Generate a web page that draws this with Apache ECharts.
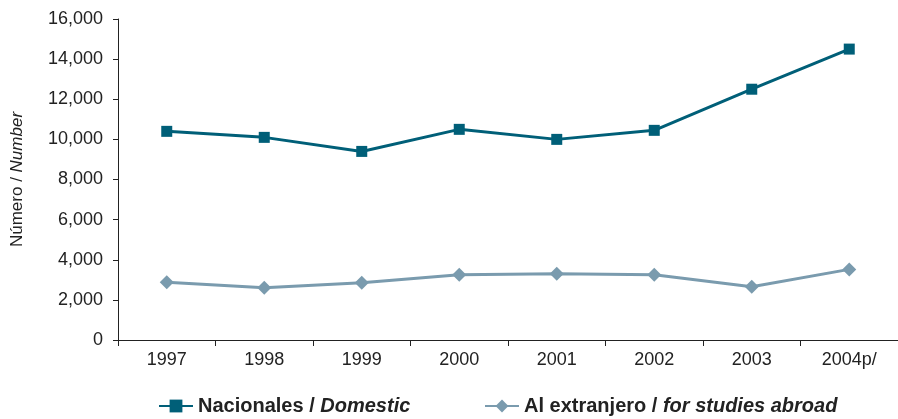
<!DOCTYPE html>
<html>
<head>
<meta charset="utf-8">
<script src="https://cdn.jsdelivr.net/npm/echarts@6/dist/echarts.min.js"></script>
<style>
  html, body { margin: 0; padding: 0; background: #fff; }
  #chart { width: 898px; height: 419px; }
</style>
</head>
<body>
<div id="chart"></div>
<script>
const years = ['1997', '1998', '1999', '2000', '2001', '2002', '2003', '2004p/']
const domestic = [10400, 10100, 9400, 10500, 10000, 10450, 12500, 14500]
const abroad = [2880, 2600, 2850, 3250, 3300, 3250, 2650, 3520]
const yTicks = { min: 0, max: 16000, interval: 2000 }
const seriesNames = ['Nacionales / Domestic', 'Al extranjero / for studies abroad']

const c = {
  domestic: '#005f78',
  abroad: '#7a9bae',
  text: '#222222',
  axis: '#222222',
}
const font = '"Liberation Sans", Arial, Helvetica, sans-serif'

const chart = echarts.init(document.getElementById('chart'))

const legendText = {
  fontFamily: font,
  rich: {
    b: { fontWeight: 'bold', fontSize: 20, color: c.text, fontFamily: font },
    bi: { fontWeight: 'bold', fontStyle: 'italic', fontSize: 20, color: c.text, fontFamily: font },
  },
}
const legendFmt = (name) => {
  const parts = name.split(' / ')
  return '{b|' + parts[0] + ' / }{bi|' + parts[1] + '}'
}
const makeLegend = (name, left) => ({
  top: 394,
  left,
  padding: 2,
  itemWidth: 34,
  itemHeight: 16,
  itemGap: 6,
  textStyle: legendText,
  formatter: legendFmt,
  data: [name],
})

chart.setOption({
  animation: false,
  textStyle: { fontFamily: font },
  grid: { left: 118, right: 0, top: 19, bottom: 79, outerBoundsMode: 'none' },
  xAxis: {
    type: 'category',
    data: years,
    boundaryGap: true,
    axisLine: { lineStyle: { color: c.axis, width: 1 } },
    axisTick: { show: true, length: 6, lineStyle: { color: c.axis } },
    axisLabel: { color: c.text, fontSize: 18, margin: 11, fontFamily: font },
  },
  yAxis: {
    type: 'value',
    min: yTicks.min,
    max: yTicks.max,
    interval: yTicks.interval,
    name: '{r|Número / }{i|Number}',
    nameLocation: 'middle',
    nameGap: 92,
    nameRotate: 90,
    nameTextStyle: {
      color: c.text,
      fontSize: 17,
      fontFamily: font,
      rich: {
        r: { fontSize: 17, color: c.text, fontFamily: font },
        i: { fontStyle: 'italic', fontSize: 17, color: c.text, fontFamily: font },
      },
    },
    axisLine: { show: true, lineStyle: { color: c.axis, width: 1 } },
    axisTick: { show: true, length: 5, lineStyle: { color: c.axis } },
    splitLine: { show: false },
    axisLabel: {
      color: c.text,
      fontSize: 18,
      margin: 15,
      fontFamily: font,
      formatter: (v) => v.toLocaleString('en-US'),
    },
  },
  legend: [makeLegend(seriesNames[0], 156), makeLegend(seriesNames[1], 482)],
  series: [
    {
      name: seriesNames[0],
      type: 'line',
      data: domestic,
      symbol: 'rect',
      symbolSize: 11,
      lineStyle: { color: c.domestic, width: 3 },
      itemStyle: { color: c.domestic },
    },
    {
      name: seriesNames[1],
      type: 'line',
      data: abroad,
      symbol: 'diamond',
      symbolSize: 14,
      lineStyle: { color: c.abroad, width: 3 },
      itemStyle: { color: c.abroad },
    },
  ],
})
</script>
</body>
</html>
